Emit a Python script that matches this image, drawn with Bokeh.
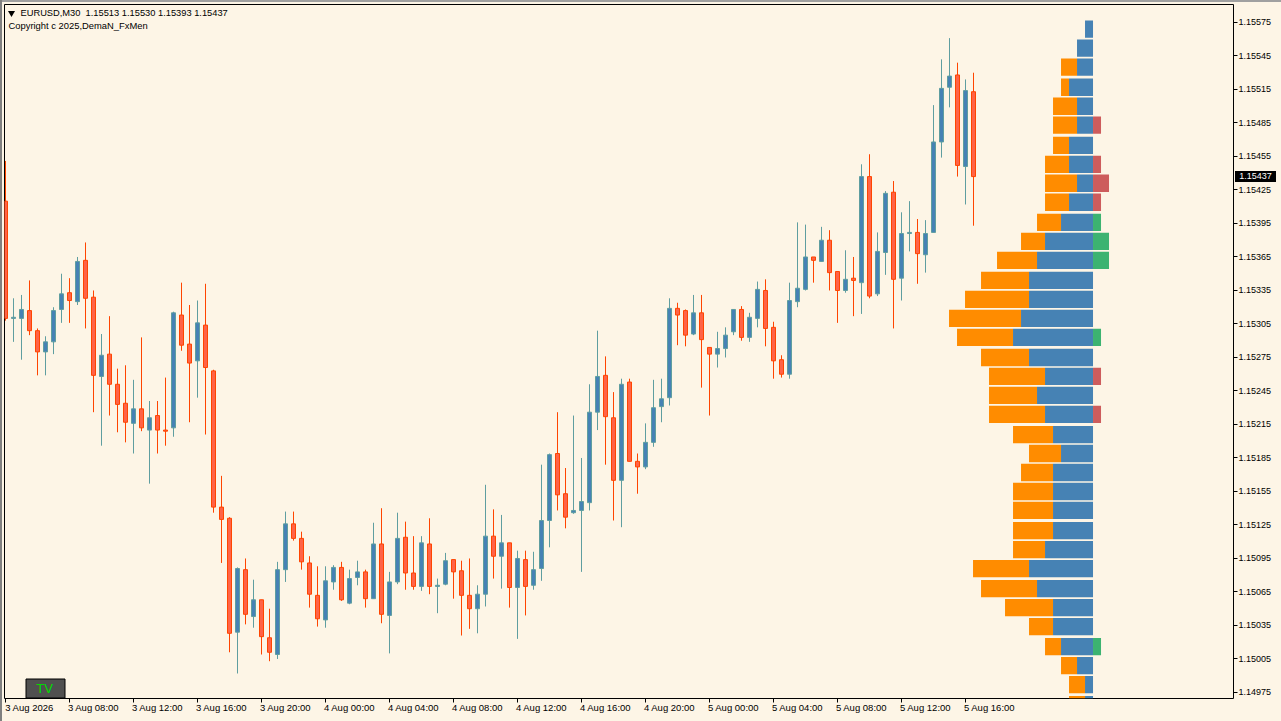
from bokeh.plotting import figure
from bokeh.models import FixedTicker, PrintfTickFormatter, Label, ColumnDataSource, Range1d, BoxAnnotation
from bokeh.embed import file_html
from bokeh.resources import INLINE
import numpy as np

symbol = "EURUSD,M30"
copyright_text = "Copyright c 2025,DemaN_FxMen"

opens = [1.15415,1.15310,1.15310,1.15317,1.15299,1.15280,1.15289,1.15318,1.15333,1.15325,
1.15362,1.15329,1.15258,1.15278,1.15251,1.15234,1.15216,1.15229,1.15210,1.15223,
1.15210,1.15212,1.15313,1.15287,1.15272,1.15304,1.15263,1.15141,1.15131,1.15029,
1.15085,1.15043,1.15058,1.15024,1.15009,1.15085,1.15126,1.15113,1.15091,1.15062,
1.15040,1.15074,1.15087,1.15055,1.15078,1.15083,1.15059,1.15108,1.15044,1.15074,
1.15114,1.15082,1.15070,1.15108,1.15070,1.15072,1.15094,1.15084,1.15062,1.15050,
1.15063,1.15115,1.15097,1.15109,1.15069,1.15094,1.15071,1.15086,1.15129,1.15189,
1.15153,1.15136,1.15138,1.15145,1.15226,1.15259,1.15221,1.15165,1.15253,1.15182,
1.15177,1.15199,1.15231,1.15239,1.15319,1.15317,1.15296,1.15315,1.15284,1.15278,
1.15283,1.15298,1.15318,1.15293,1.15310,1.15335,1.15302,1.15273,1.15260,1.15325,
1.15336,1.15365,1.15361,1.15380,1.15352,1.15335,1.15346,1.15342,1.15437,1.15332,
1.15369,1.15423,1.15346,1.15386,1.15387,1.15367,1.15387,1.15468,1.15517,1.15528,
1.15446,1.15513]

highs = [1.15451,1.15328,1.15331,1.15344,1.15301,1.15294,1.15320,1.15350,1.15346,1.15365,
1.15378,1.15335,1.15296,1.15312,1.15265,1.15268,1.15255,1.15293,1.15236,1.15236,
1.15257,1.15316,1.15342,1.15322,1.15326,1.15341,1.15264,1.15169,1.15132,1.15087,
1.15095,1.15076,1.15058,1.15050,1.15092,1.15137,1.15137,1.15119,1.15097,1.15088,
1.15088,1.15089,1.15092,1.15085,1.15093,1.15085,1.15127,1.15140,1.15083,1.15136,
1.15128,1.15115,1.15115,1.15131,1.15077,1.15100,1.15094,1.15093,1.15095,1.15071,
1.15161,1.15139,1.15134,1.15109,1.15102,1.15102,1.15101,1.15179,1.15189,1.15226,
1.15176,1.15223,1.15185,1.15251,1.15299,1.15276,1.15244,1.15256,1.15256,1.15189,
1.15216,1.15255,1.15256,1.15328,1.15324,1.15318,1.15331,1.15331,1.15284,1.15298,
1.15302,1.15318,1.15321,1.15315,1.15343,1.15345,1.15307,1.15277,1.15342,1.15396,
1.15394,1.15365,1.15392,1.15389,1.15352,1.15371,1.15365,1.15448,1.15457,1.15387,
1.15424,1.15433,1.15405,1.15415,1.15399,1.15398,1.15501,1.15542,1.15561,1.15539,
1.15524,1.15530]

lows = [1.15308,1.15289,1.15273,1.15295,1.15259,1.15259,1.15278,1.15306,1.15306,1.15322,
1.15301,1.15226,1.15196,1.15223,1.15208,1.15199,1.15189,1.15209,1.15162,1.15189,
1.15196,1.15204,1.15281,1.15217,1.15239,1.15206,1.15136,1.15091,1.15011,1.14992,
1.15036,1.15033,1.15009,1.15003,1.15005,1.15074,1.15111,1.15085,1.15051,1.15034,
1.15033,1.15067,1.15057,1.15054,1.15071,1.15051,1.15059,1.15037,1.15010,1.15072,
1.15067,1.15067,1.15066,1.15063,1.15046,1.15071,1.15059,1.15026,1.15032,1.15028,
1.15052,1.15077,1.15068,1.15051,1.15023,1.15044,1.15067,1.15075,1.15105,1.15138,
1.15122,1.15135,1.15083,1.15138,1.15210,1.15179,1.15129,1.15123,1.15182,1.15153,
1.15175,1.15195,1.15217,1.15232,1.15286,1.15285,1.15295,1.15248,1.15223,1.15266,
1.15275,1.15295,1.15290,1.15289,1.15302,1.15285,1.15256,1.15257,1.15256,1.15320,
1.15335,1.15342,1.15361,1.15335,1.15306,1.15333,1.15312,1.15314,1.15328,1.15330,
1.15349,1.15301,1.15326,1.15370,1.15341,1.15351,1.15387,1.15454,1.15499,1.15437,
1.15412,1.15393]

closes = [1.15310,1.15311,1.15318,1.15299,1.15280,1.15289,1.15317,1.15332,1.15326,1.15361,
1.15328,1.15259,1.15277,1.15251,1.15233,1.15217,1.15229,1.15212,1.15221,1.15210,
1.15209,1.15315,1.15286,1.15270,1.15306,1.15266,1.15141,1.15130,1.15028,1.15086,
1.15045,1.15058,1.15025,1.15011,1.15085,1.15126,1.15113,1.15092,1.15063,1.15041,
1.15075,1.15087,1.15058,1.15077,1.15083,1.15059,1.15108,1.15045,1.15074,1.15113,
1.15082,1.15070,1.15109,1.15070,1.15071,1.15093,1.15083,1.15062,1.15050,1.15063,
1.15115,1.15097,1.15109,1.15069,1.15095,1.15070,1.15085,1.15129,1.15188,1.15152,
1.15132,1.15138,1.15146,1.15226,1.15258,1.15222,1.15165,1.15251,1.15182,1.15177,
1.15199,1.15230,1.15238,1.15319,1.15313,1.15295,1.15315,1.15291,1.15278,1.15283,
1.15295,1.15318,1.15293,1.15311,1.15336,1.15301,1.15272,1.15260,1.15326,1.15337,
1.15365,1.15362,1.15380,1.15351,1.15335,1.15345,1.15344,1.15437,1.15330,1.15370,
1.15422,1.15345,1.15386,1.15387,1.15368,1.15386,1.15468,1.15516,1.15527,1.15447,
1.15514,1.15437]

price_ticks = [1.15575,1.15545,1.15515,1.15485,1.15455,1.15425,1.15395,1.15365,1.15335,1.15305,1.15275,
               1.15245,1.15215,1.15185,1.15155,1.15125,1.15095,1.15065,1.15035,1.15005,1.14975]

time_labels = ["3 Aug 2026","3 Aug 08:00","3 Aug 12:00","3 Aug 16:00","3 Aug 20:00","4 Aug 00:00",
               "4 Aug 04:00","4 Aug 08:00","4 Aug 12:00","4 Aug 16:00","4 Aug 20:00","5 Aug 00:00",
               "5 Aug 04:00","5 Aug 08:00","5 Aug 12:00","5 Aug 16:00"]

profile_levels = [1.15569,1.15552,1.15535,1.15517,1.15500,1.15483,1.15465,1.15448,1.15431,1.15414,
                  1.15396,1.15379,1.15362,1.15344,1.15327,1.15310,1.15293,1.15275,1.15258,1.15241,
                  1.15224,1.15206,1.15189,1.15172,1.15155,1.15138,1.15120,1.15103,1.15086,1.15068,
                  1.15051,1.15034,1.15016,1.14999,1.14982,1.14964]
profile_blue   = [1,2,2,3,2,2,3,3,2,3,4,6,7,8,8,9,10,8,6,7,6,5,4,5,5,5,5,6,8,7,5,5,4,2,1,1]
profile_orange = [0,0,2,1,3,3,2,3,4,3,3,3,5,6,8,9,7,6,7,6,7,5,4,4,5,5,5,4,7,7,6,3,2,2,2,2]
profile_delta  = [0,0,0,0,0,-1,0,-1,-2,-1,1,2,2,0,0,0,1,0,-1,0,-1,0,0,0,0,0,0,0,0,0,0,0,1,0,0,0]

BG = "#FDF5E6"
BLACK = "#000000"
n = len(opens)
x = np.arange(n)
o, h, l, c = map(np.array, (opens, highs, lows, closes))
bull = c >= o

PX_PER_BAR = 8.0
PX_PER_PRICE = 111667.0
X0 = -0.125
Y_TOP = 1.155911
FRAME_W, FRAME_H = 1229, 694

def dx(px):
    return X0 + (px - 4) / PX_PER_BAR

def dy(py):
    return Y_TOP - (py - 4) / PX_PER_PRICE

p = figure(width=1281, height=721, output_backend="svg", toolbar_location=None,
           x_range=Range1d(X0, X0 + FRAME_W / PX_PER_BAR),
           y_range=Range1d(Y_TOP - FRAME_H / PX_PER_PRICE, Y_TOP),
           y_axis_location="right",
           min_border_left=4, min_border_top=4, min_border_right=48, min_border_bottom=23,
           background_fill_color=BG, border_fill_color=BG,
           outline_line_color=BLACK, outline_line_width=1)
p.grid.visible = False

# time axis: labels start at their tick, as in the terminal
tick_bars = [8 * i for i in range(len(time_labels))]
label_bars = [t + 3 for t in tick_bars]
p.xaxis.ticker = FixedTicker(ticks=label_bars, minor_ticks=tick_bars)
p.xaxis.major_label_overrides = {b: t for b, t in zip(label_bars, time_labels)}
p.xaxis.major_tick_line_color = None
p.xaxis.major_tick_out = 0
p.xaxis.major_tick_in = 0
p.xaxis.minor_tick_line_color = BLACK
p.xaxis.minor_tick_out = 4
p.xaxis.minor_tick_in = 0
p.xaxis.axis_line_color = None
p.xaxis.major_label_standoff = -1
p.xaxis.major_label_text_font = "Liberation Sans"
p.xaxis.major_label_text_font_size = "9.5px"
p.xaxis.major_label_text_color = BLACK

p.yaxis.ticker = FixedTicker(ticks=price_ticks)
p.yaxis.formatter = PrintfTickFormatter(format="%.5f")
p.yaxis.major_tick_line_color = BLACK
p.yaxis.major_tick_out = 4
p.yaxis.major_tick_in = 0
p.yaxis.minor_tick_line_color = None
p.yaxis.axis_line_color = None
p.yaxis.major_label_standoff = 1
p.yaxis.major_label_text_font = "Liberation Sans"
p.yaxis.major_label_text_font_size = "9px"
p.yaxis.major_label_text_color = BLACK

# candles
for mask, fill, edge in ((bull, "#4682B4", "#5F9EA0"), (~bull, "#FF6347", "#FF4500")):
    src = ColumnDataSource(dict(x=x[mask], o=o[mask], h=h[mask], l=l[mask], c=c[mask]))
    p.segment("x", "l", "x", "h", source=src, line_color=edge, line_width=1)
    p.vbar(x="x", top="o", bottom="c", width=0.5, source=src,
           fill_color=fill, line_color=edge, line_width=1)

# volume profile, drawn in bar units from its baseline
base = 135.94
lev = np.array(profile_levels)
blue = np.array(profile_blue, dtype=float)
orange = np.array(profile_orange, dtype=float)
delta = np.array(profile_delta, dtype=float)
row_h = 0.000155
p.hbar(y=lev, left=base - blue, right=base, height=row_h, fill_color="#4682B4", line_color=None)
p.hbar(y=lev, left=base - blue - orange, right=base - blue, height=row_h, fill_color="#FF8C00", line_color=None)
up = delta > 0
dn = delta < 0
p.hbar(y=lev[up], left=base, right=base + delta[up], height=row_h, fill_color="#3CB371", line_color=None)
p.hbar(y=lev[dn], left=base, right=base - delta[dn], height=row_h, fill_color="#CD5C5C", line_color=None)

# header
p.scatter([dx(11)], [dy(12.5)], marker="inverted_triangle", size=7, fill_color=BLACK, line_color=None)
header = f"{symbol}\u00a0\u00a0{opens[-1]:.5f} {highs[-1]:.5f} {lows[-1]:.5f} {closes[-1]:.5f}"
p.add_layout(Label(x=dx(20), y=dy(12), text=header, text_font="Liberation Sans", text_font_size="9.3px",
                   text_color=BLACK, text_baseline="middle", text_align="left"))
p.add_layout(Label(x=dx(8), y=dy(24.5), text=copyright_text, text_font="Liberation Sans", text_font_size="9.4px",
                   text_color=BLACK, text_baseline="middle", text_align="left"))

# TV button
p.add_layout(BoxAnnotation(left=dx(25.5), right=dx(64.5), top=dy(678.5), bottom=dy(697.5),
                           fill_color="#505050", fill_alpha=1, line_color=BLACK, line_alpha=1, line_width=1))
p.add_layout(Label(x=dx(44), y=dy(687.5), text="TV", text_font="Liberation Sans", text_font_size="13px",
                   text_color="#00DD00", text_baseline="middle", text_align="center"))

# current price tag and window edge sit on the page, above the figure
price_tag = (f'<div style="position:fixed;left:1235px;top:171px;width:41px;height:11px;background:#000;color:#fff;'
             f'font:9px/11px \'Liberation Sans\';text-align:center;z-index:10">{closes[-1]:.5f}</div>')
edges = ('<div style="position:fixed;left:0;top:0;width:1281px;height:2px;background:#a0a0a0;z-index:10"></div>'
         '<div style="position:fixed;left:0;top:0;width:2px;height:721px;background:#808080;z-index:10"></div>')

html = file_html(p, INLINE)
html = html.replace("<body>", '<body style="margin:0;background:#FDF5E6;overflow:hidden">', 1)
html = html.replace("</body>", price_tag + edges + "</body>", 1)
open("out.html", "w").write(html)
